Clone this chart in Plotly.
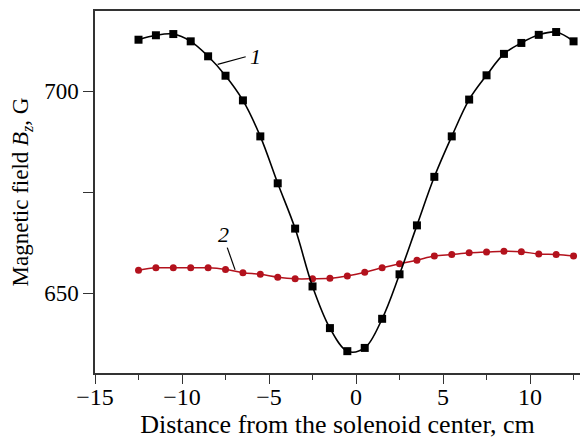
import plotly.graph_objects as go

x_pos = [-12.5, -11.5, -10.5, -9.5, -8.5, -7.5, -6.5, -5.5, -4.5, -3.5, -2.5, -1.5, -0.5,
         0.5, 1.5, 2.5, 3.5, 4.5, 5.5, 6.5, 7.5, 8.5, 9.5, 10.5, 11.5, 12.5]
b_curve1 = [712.7, 713.8, 714.1, 712.3, 708.6, 703.8, 697.7, 688.8, 677.2, 666.0, 651.7, 641.4, 635.7,
            636.5, 643.7, 654.7, 666.8, 678.8, 688.8, 697.9, 703.9, 709.2, 711.9, 713.9, 714.6, 712.3]
b_curve2 = [655.7, 656.3, 656.3, 656.3, 656.3, 655.9, 655.1, 654.7, 654.0, 653.6, 653.6, 653.7, 654.3,
            655.2, 656.3, 657.3, 658.2, 659.2, 659.6, 660.0, 660.2, 660.4, 660.3, 659.7, 659.6, 659.2]

x_ticks = [-15, -10, -5, 0, 5, 10]
y_ticks = [650, 700]
x_range = [-15, 12.87]
y_range = [630.3, 719.8]

label1 = {"text": "1", "x": -5.76, "y": 708.6, "line": [-7.95, 706.6, -6.34, 708.5]}
label2 = {"text": "2", "x": -7.63, "y": 664.6, "line": [-7.40, 661.3, -6.95, 655.8]}

FONT = "Liberation Serif"
RED = "#b3121d"

fig = go.Figure()
fig.add_trace(go.Scatter(x=x_pos, y=b_curve2, mode="lines+markers",
                         line=dict(color=RED, width=1.5, shape="spline"),
                         marker=dict(symbol="circle", size=7, color=RED),
                         showlegend=False, cliponaxis=False))
fig.add_trace(go.Scatter(x=x_pos, y=b_curve1, mode="lines+markers",
                         line=dict(color="black", width=1.6, shape="spline"),
                         marker=dict(symbol="square", size=8, color="black"),
                         showlegend=False, cliponaxis=False))

for lab in (label1, label2):
    x0, y0, x1, y1 = lab["line"]
    fig.add_shape(type="line", xref="x", yref="y", x0=x0, y0=y0, x1=x1, y1=y1,
                  line=dict(color="black", width=1.2))
    fig.add_annotation(x=lab["x"], y=lab["y"], xref="x", yref="y", text="<i>%s</i>" % lab["text"],
                       showarrow=False, font=dict(family=FONT, size=22, color="black"))

axis_common = dict(showgrid=False, zeroline=False, showline=True, linecolor="#333333", linewidth=1.5,
                   ticks="outside", tickcolor="#333333", tickwidth=1.2)

fig.update_xaxes(range=x_range, tickvals=x_ticks, ticktext=["\u2212" + str(-v) if v < 0 else str(v) for v in x_ticks],
                 ticklen=9, mirror=True, ticklabelstandoff=-8,
                 tickfont=dict(family=FONT, size=24, color="black"),
                 minor=dict(dtick=2.5, tick0=0, ticks="outside", ticklen=5, tickcolor="#333333", tickwidth=1.2),
                 title=dict(text="Distance from the solenoid center, cm",
                            font=dict(family=FONT, size=26, color="black"), standoff=11),
                 **axis_common)
fig.update_yaxes(range=y_range, tickvals=y_ticks, ticklen=10, mirror=False,
                 tickfont=dict(family=FONT, size=23, color="black"),
                 minor=dict(dtick=25, tick0=0, ticks="outside", ticklen=10, tickcolor="#333333", tickwidth=1.2),
                 title=dict(text="Magnetic field <i>B<sub>z</sub></i>, G",
                            font=dict(family=FONT, size=23, color="black"), standoff=9),
                 **axis_common)

fig.update_layout(width=580, height=439, margin=dict(l=95, r=0, t=11, b=66),
                  plot_bgcolor="white", paper_bgcolor="white")

fig.write_html("out.html")
